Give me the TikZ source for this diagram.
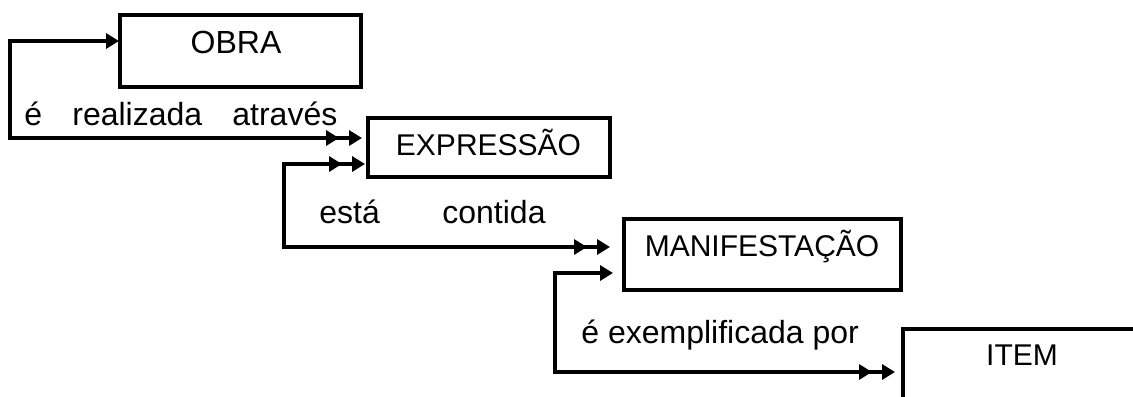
\documentclass[tikz,border=0pt]{standalone}
\usepackage{fontspec}
\setmainfont{Liberation Sans}
\usetikzlibrary{arrows.meta}
\begin{document}
\begin{tikzpicture}[x=0.5pt,y=-0.5pt,
  box/.style={draw, line width=2pt, inner sep=0pt, outer sep=0pt, anchor=north west},
  boxtext/.style={anchor=base, inner sep=0pt, font=\fontsize{15}{18}\selectfont},
  lbl/.style={anchor=base west, inner sep=0pt, font=\fontsize{16}{19}\selectfont},
  conn/.style={line width=2pt},
]
\useasboundingbox (0,0) rectangle (1133,396);
\clip (0,0) rectangle (1133,396);

% boxes
\node[box, minimum width=120.5pt, minimum height=36pt] (obra) at (120,15) {};
\node[box, minimum width=121pt, minimum height=29.5pt] (expr) at (368,118) {};
\node[box, minimum width=138.5pt, minimum height=35.5pt] (manif) at (624,219) {};
\node[box, minimum width=125pt, minimum height=45.5pt] (item) at (903,329) {};

% box texts
\node[boxtext, font=\fontsize{16}{19}\selectfont] (obraT) at (236,53) {OBRA};
\node[boxtext] (exprT) at (488.5,155) {EXPRESSÃO};
\node[boxtext] (manifT) at (762,256) {MANIFESTAÇÃO};
\node[boxtext] (itemT) at (1022,365) {ITEM};

% bend points
\coordinate (c1) at (10,41);
\coordinate (c1b) at (10,138);
\coordinate (c2) at (284,164);
\coordinate (c2b) at (284,247);
\coordinate (c3) at (555,273);
\coordinate (c3b) at (555,372);

% connectors
\draw[conn, arrows={Triangle[length=6.5pt,width=7.5pt]-Triangle[length=6.5pt,width=7.5pt,sep=5pt]Triangle[length=6.5pt,width=7.5pt]},
  shorten <=0.5pt, shorten >=3pt]
  (c1 -| obra.west) -- (c1) -- (c1b) -- (c1b -| expr.west);
\draw[conn, arrows={Triangle[length=6.5pt,width=7.5pt]Triangle[length=6.5pt,width=7.5pt,sep=5pt]-Triangle[length=6.5pt,width=7.5pt,sep=5pt]Triangle[length=6.5pt,width=7.5pt]},
  shorten <=1.5pt, shorten >=7pt]
  (c2 -| expr.west) -- (c2) -- (c2b) -- (c2b -| manif.west);
\draw[conn, arrows={Triangle[length=6.5pt,width=7.5pt]-Triangle[length=6.5pt,width=7.5pt,sep=5pt]Triangle[length=6.5pt,width=7.5pt]},
  shorten <=5.5pt, shorten >=4pt]
  (c3 -| manif.west) -- (c3) -- (c3b) -- (c3b -| item.west);

% labels
\node[lbl] (l1a) at (24,125) {é};
\node[lbl] (l1b) at (72,125) {realizada};
\node[lbl] (l1c) at (232,125) {através};
\node[lbl] (l2a) at (319,223) {está};
\node[lbl] (l2b) at (442,223) {contida};
\node[lbl] (l3) at (581,343) {é exemplificada por};
\end{tikzpicture}
\end{document}
